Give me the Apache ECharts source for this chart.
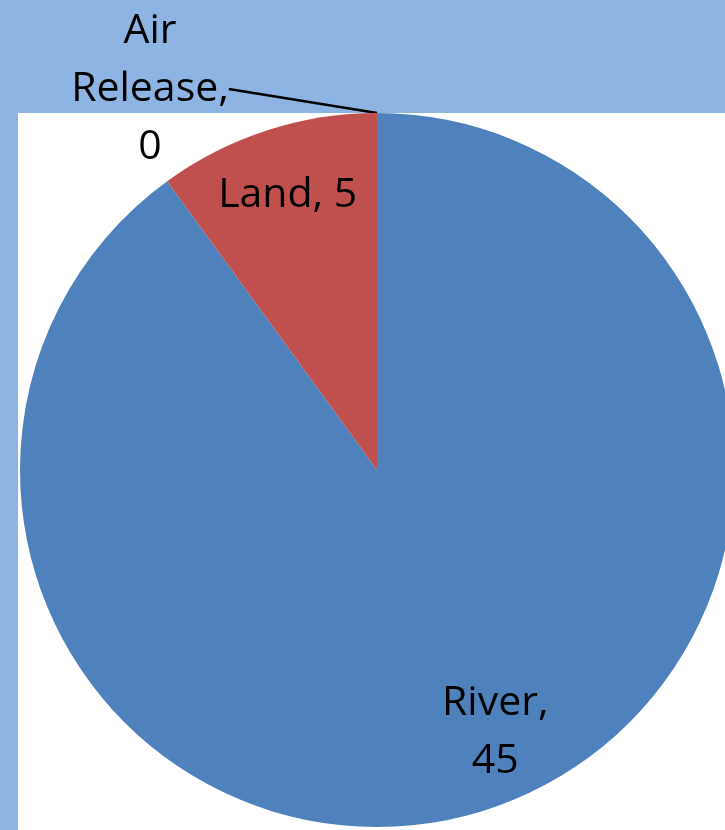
<!DOCTYPE html>
<html>
<head>
<meta charset="utf-8">
<style>html,body{margin:0;padding:0;background:#8EB4E3;}#c{width:725px;height:830px;}</style>
<script src="https://cdn.jsdelivr.net/npm/echarts@6/dist/echarts.min.js"></script>
</head>
<body>
<div id="c"></div>
<script>
const categories = ['River', 'Land', 'Air Release'];
const values = [45, 5, 0];
const colors = ['#4F81BD', '#C0504D', '#4F81BD'];

const chart = echarts.init(document.getElementById('c'));
const FONT = {fontFamily: 'Open Sans', fontSize: 41, color: '#000'};
const data = categories.map((c, i) => ({name: c, value: values[i], itemStyle: {color: colors[i]}}));
chart.setOption({
  backgroundColor: '#8EB4E3',
  animation: false,
  graphic: [{type: 'rect', z: -1, shape: {x: 18, y: 113, width: 707, height: 717}, style: {fill: '#fff'}}],
  series: [
    {
      type: 'pie', center: [377, 470], radius: 357, startAngle: 90, clockwise: true,
      avoidLabelOverlap: false, z: 2,
      itemStyle: {borderWidth: 0},
      data: data.map((d, i) => ({...d, label: {show: i === 2}, labelLine: {show: i === 2}})),
      label: {show: true, position: 'outside', ...FONT, lineHeight: 58, align: 'center',
        formatter: p => p.name.replace(' ', '\n') + ',\n' + p.value},
      labelLine: {show: true, lineStyle: {color: '#000', width: 2.5}, length: 0, length2: 0},
      labelLayout: p => p.dataIndex === 2 ? {x: 150, y: 89, align: 'center', verticalAlign: 'middle'} : {}
    },
    {
      type: 'pie', center: [377, 470], radius: 572, startAngle: 90, clockwise: true,
      silent: true, z: 3, avoidLabelOverlap: false,
      itemStyle: {color: 'rgba(0,0,0,0)'},
      data: data.map((d, i) => ({name: d.name, value: d.value,
        label: i === 0 ? {show: true, offset: [29, -13]} : {show: i !== 2}})),
      label: {show: true, position: 'inside', ...FONT, lineHeight: 58,
        formatter: p => p.name === 'River' ? p.name + ',\n' + p.value : p.name + ', ' + p.value},
      labelLine: {show: false}
    }
  ]
});
</script>
</body>
</html>
